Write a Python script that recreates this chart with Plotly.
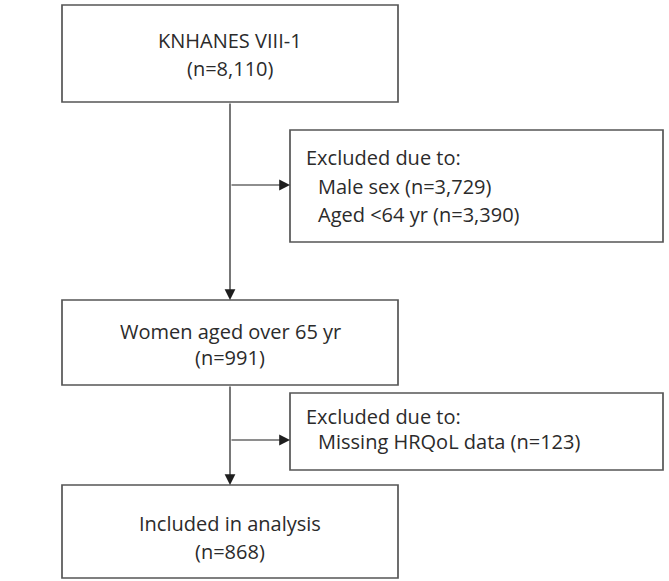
import plotly.graph_objects as go

# ---- content ----
main_titles = ["KNHANES VIII-1", "Women aged over 65 yr", "Included in analysis"]
main_counts = ["8,110", "991", "868"]
excl_header = "Excluded due to:"
excl_items_1 = ["Male sex (n=3,729)", "Aged <64 yr (n=3,390)"]
excl_items_2 = ["Missing HRQoL data (n=123)"]

# ---- layout (pixel coordinates, y downward) ----
W, H = 669, 581
main_boxes = [(62, 5, 398, 102), (62, 300, 398, 385), (62, 485, 398, 578)]
main_line_y = [(40, 68), (331, 357), (523, 551)]
excl_boxes = [(290, 130, 663, 242), (290, 393, 663, 470)]
excl_line_y = [(157, 186, 214), (416, 441)]
arrow_y = [185, 440]
spine_x = 230
text_x = 304
indent = 12

FONT = "Open Sans"
FS = 20
TXT = "#2b2b2b"
LINE = "#555555"

fig = go.Figure()
shapes = []
ann = []

for (x0, y0, x1, y1) in main_boxes + excl_boxes:
    shapes.append(dict(type="rect", xref="x", yref="y", x0=x0, y0=y0, x1=x1, y1=y1,
                       line=dict(color=LINE, width=1.7), fillcolor="white", layer="below"))

for (t, c, (ya, yb)) in zip(main_titles, main_counts, main_line_y):
    ann.append(dict(x=spine_x, y=ya, text=t, showarrow=False, xanchor="center", yanchor="middle",
                    font=dict(family=FONT, size=FS, color=TXT)))
    ann.append(dict(x=spine_x, y=yb, text="(n=" + c + ")", showarrow=False, xanchor="center",
                    yanchor="middle", font=dict(family=FONT, size=FS, color=TXT)))

for items, ys in zip([excl_items_1, excl_items_2], excl_line_y):
    ann.append(dict(x=text_x, y=ys[0], text=excl_header, showarrow=False, xanchor="left",
                    yanchor="middle", font=dict(family=FONT, size=FS, color=TXT)))
    for it, yy in zip(items, ys[1:]):
        ann.append(dict(x=text_x + indent, y=yy, text=it, showarrow=False, xanchor="left",
                        yanchor="middle", font=dict(family=FONT, size=FS, color=TXT)))

# vertical arrows down the spine
for (a, b) in [(main_boxes[0][3], main_boxes[1][1]), (main_boxes[1][3], main_boxes[2][1])]:
    ann.append(dict(x=spine_x, y=b, ax=spine_x, ay=a, xref="x", yref="y", axref="x", ayref="y",
                    text="", showarrow=True, arrowhead=2, arrowsize=1.8, arrowwidth=1.2,
                    arrowcolor="#1e1e1e", standoff=0, startstandoff=0))

# horizontal arrows to exclusion boxes
for yy, bx in zip(arrow_y, excl_boxes):
    ann.append(dict(x=bx[0], y=yy, ax=spine_x, ay=yy, xref="x", yref="y", axref="x", ayref="y",
                    text="", showarrow=True, arrowhead=2, arrowsize=1.8, arrowwidth=1.2,
                    arrowcolor="#1e1e1e", standoff=0, startstandoff=0))

fig.update_layout(
    width=W, height=H, margin=dict(l=0, r=0, t=0, b=0),
    paper_bgcolor="white", plot_bgcolor="white",
    xaxis=dict(range=[0, W], visible=False, fixedrange=True),
    yaxis=dict(range=[H, 0], visible=False, fixedrange=True),
    shapes=shapes, annotations=ann, showlegend=False,
)

fig.write_html("out.html", config={"displayModeBar": False},
               post_script="document.body.style.margin='0';document.body.style.overflow='hidden';")
